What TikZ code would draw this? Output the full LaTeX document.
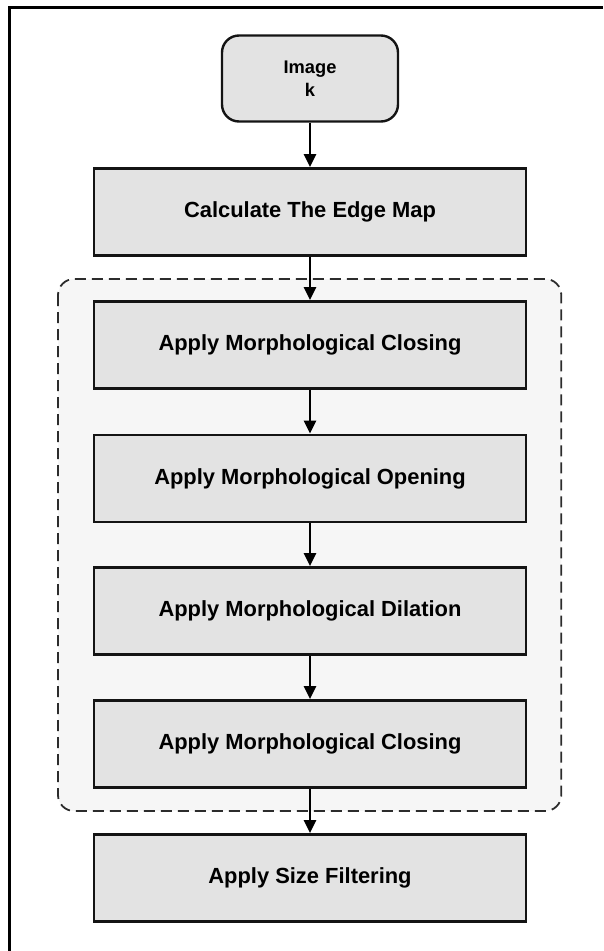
\documentclass[tikz,border=0pt]{standalone}
\usepackage{fontspec}
\setmainfont{Liberation Sans}
\usetikzlibrary{arrows.meta}
\definecolor{boxgray}{HTML}{E3E3E3}
\definecolor{groupgray}{HTML}{F6F6F6}
\definecolor{inkline}{HTML}{141414}
\begin{document}
\begin{tikzpicture}[x=1pt,y=-1pt,
  stepbox/.style={draw=inkline, line width=2.7pt, fill=boxgray,
    minimum width=432pt, minimum height=87pt, inner sep=0pt,
    font=\fontsize{21.9}{26}\selectfont\bfseries},
  startbox/.style={draw=inkline, line width=2.4pt, fill=boxgray,
    rounded corners=17pt, minimum width=176pt, minimum height=86pt,
    inner sep=0pt, align=center,
    font=\fontsize{18.3}{22.5}\selectfont\bfseries},
  groupbox/.style={draw=inkline!90, line width=1.8pt, fill=groupgray,
    dash pattern=on 11pt off 6pt, rounded corners=16pt},
  flow/.style={draw=black, line width=2.4pt,
    -{Triangle[length=13pt,width=12pt]}},
  frame/.style={draw=black, line width=3pt}
]
\useasboundingbox (0,0) rectangle (603,951);

% outer frame (only top and left edges fall inside the page)
\coordinate (fl) at (9.5,951);
\coordinate (fc) at (9.5,7.5);
\coordinate (fr) at (603,7.5);
\draw[frame] (fl) -- (fc) -- (fr);

% grouping of the morphological operations
\draw[groupbox] (58,279) rectangle (561.3,811);

% processing steps
\node[startbox] (img) at (310,78.5) {Image\\k};
\node[stepbox] (edge) at (310,212) {Calculate The Edge Map};
\node[stepbox] (close1) at (310,345) {Apply Morphological Closing};
\node[stepbox] (open) at (310,478.4) {Apply Morphological Opening};
\node[stepbox] (dilate) at (310,611) {Apply Morphological Dilation};
\node[stepbox] (close2) at (310,744) {Apply Morphological Closing};
\node[stepbox] (size) at (310,878) {Apply Size Filtering};

% connectors
\draw[flow] (img.south) -- (edge.north);
\draw[flow] (edge.south) -- (close1.north);
\draw[flow] (close1.south) -- (open.north);
\draw[flow] (open.south) -- (dilate.north);
\draw[flow] (dilate.south) -- (close2.north);
\draw[flow] (close2.south) -- (size.north);
\end{tikzpicture}
\end{document}
